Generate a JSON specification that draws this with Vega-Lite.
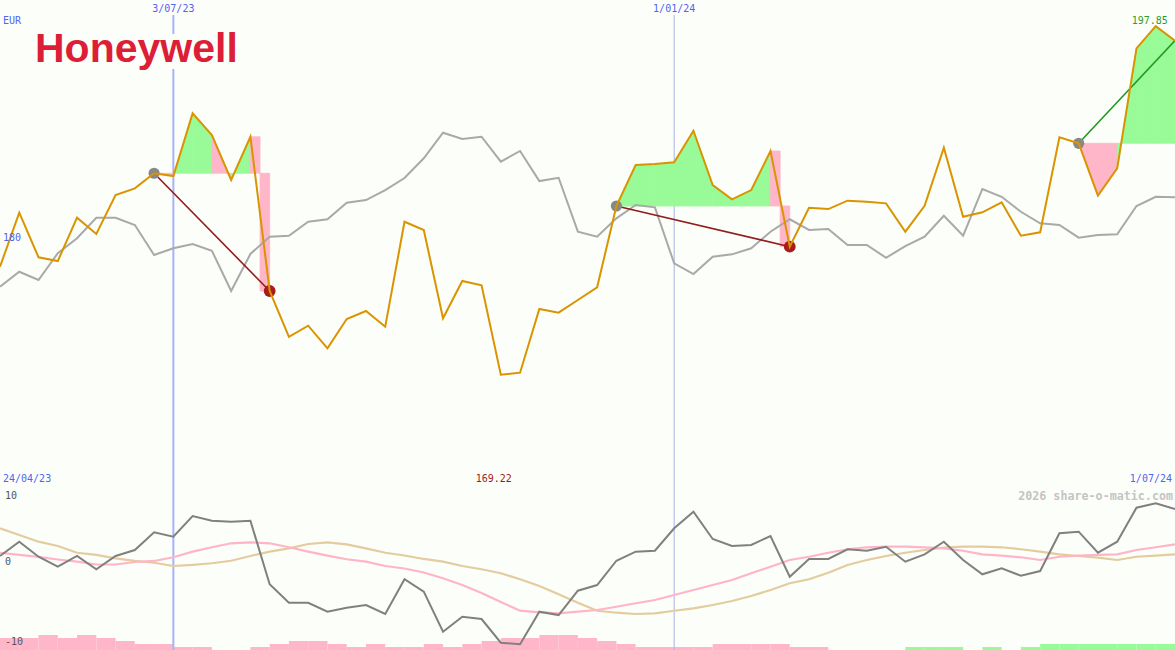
{
  "$schema": "https://vega.github.io/schema/vega-lite/v6.json",
  "background": "#fcfefa",
  "padding": 0,
  "spacing": 0,
  "bounds": "flush",
  "config": {
    "view": {"stroke": null},
    "axis": {"disable": true},
    "legend": {"disable": true},
    "text": {"font": "DejaVu Sans Mono", "fontSize": 10, "baseline": "middle"}
  },
  "datasets": {
    "series": [
      {"date": "2023-05-01", "price": 178.09, "peer": 176.45, "momentum": 1.5, "fast": 1.91, "slow": 4.96},
      {"date": "2023-05-08", "price": 182.53, "peer": 177.68, "momentum": 3.29, "fast": 1.63, "slow": 4.13},
      {"date": "2023-05-15", "price": 178.87, "peer": 177.0, "momentum": 1.41, "fast": 1.38, "slow": 3.29},
      {"date": "2023-05-22", "price": 178.56, "peer": 179.2, "momentum": 0.16, "fast": 1.06, "slow": 2.75},
      {"date": "2023-05-29", "price": 182.12, "peer": 180.43, "momentum": 1.5, "fast": 0.79, "slow": 1.91},
      {"date": "2023-06-05", "price": 180.78, "peer": 182.12, "momentum": -0.16, "fast": 0.44, "slow": 1.63},
      {"date": "2023-06-12", "price": 183.98, "peer": 182.12, "momentum": 1.5, "fast": 0.44, "slow": 1.21},
      {"date": "2023-06-19", "price": 184.53, "peer": 181.52, "momentum": 2.25, "fast": 0.75, "slow": 0.88},
      {"date": "2023-06-26", "price": 185.77, "peer": 179.06, "momentum": 4.46, "fast": 0.88, "slow": 0.66},
      {"date": "2023-07-03", "price": 185.54, "peer": 179.61, "momentum": 3.91, "fast": 1.34, "slow": 0.25},
      {"date": "2023-07-10", "price": 190.69, "peer": 179.96, "momentum": 6.5, "fast": 2.04, "slow": 0.38},
      {"date": "2023-07-17", "price": 188.91, "peer": 179.41, "momentum": 5.91, "fast": 2.59, "slow": 0.59},
      {"date": "2023-07-24", "price": 185.22, "peer": 176.1, "momentum": 5.79, "fast": 3.09, "slow": 0.91},
      {"date": "2023-07-31", "price": 188.77, "peer": 179.14, "momentum": 5.91, "fast": 3.21, "slow": 1.5},
      {"date": "2023-08-07", "price": 176.1, "peer": 180.56, "momentum": -2.04, "fast": 3.09, "slow": 2.04},
      {"date": "2023-08-14", "price": 172.34, "peer": 180.64, "momentum": -4.34, "fast": 2.59, "slow": 2.46},
      {"date": "2023-08-21", "price": 173.25, "peer": 181.79, "momentum": -4.34, "fast": 2.04, "slow": 3.0},
      {"date": "2023-08-28", "price": 171.39, "peer": 181.99, "momentum": -5.46, "fast": 1.54, "slow": 3.21},
      {"date": "2023-09-04", "price": 173.8, "peer": 183.35, "momentum": -4.96, "fast": 1.09, "slow": 2.96},
      {"date": "2023-09-11", "price": 174.46, "peer": 183.57, "momentum": -4.63, "fast": 0.79, "slow": 2.46},
      {"date": "2023-09-18", "price": 173.17, "peer": 184.39, "momentum": -5.75, "fast": 0.25, "slow": 1.91},
      {"date": "2023-09-25", "price": 181.79, "peer": 185.38, "momentum": -1.41, "fast": -0.06, "slow": 1.56},
      {"date": "2023-10-02", "price": 181.11, "peer": 187.0, "momentum": -2.96, "fast": -0.56, "slow": 1.13},
      {"date": "2023-10-09", "price": 173.86, "peer": 189.1, "momentum": -7.96, "fast": -1.29, "slow": 0.79},
      {"date": "2023-10-16", "price": 176.92, "peer": 188.58, "momentum": -6.09, "fast": -2.13, "slow": 0.25},
      {"date": "2023-10-23", "price": 176.57, "peer": 188.77, "momentum": -6.38, "fast": -3.13, "slow": -0.16},
      {"date": "2023-10-30", "price": 169.22, "peer": 186.72, "momentum": -9.34, "fast": -4.25, "slow": -0.66},
      {"date": "2023-11-06", "price": 169.39, "peer": 187.6, "momentum": -9.54, "fast": -5.34, "slow": -1.41},
      {"date": "2023-11-13", "price": 174.62, "peer": 185.13, "momentum": -5.46, "fast": -5.54, "slow": -2.25},
      {"date": "2023-11-20", "price": 174.32, "peer": 185.4, "momentum": -5.88, "fast": -5.66, "slow": -3.29},
      {"date": "2023-11-27", "price": 175.36, "peer": 180.97, "momentum": -2.84, "fast": -5.46, "slow": -4.34},
      {"date": "2023-12-04", "price": 176.4, "peer": 180.56, "momentum": -2.13, "fast": -5.25, "slow": -5.34},
      {"date": "2023-12-11", "price": 183.08, "peer": 182.07, "momentum": 0.91, "fast": -4.84, "slow": -5.59},
      {"date": "2023-12-18", "price": 186.45, "peer": 183.16, "momentum": 2.04, "fast": -4.41, "slow": -5.75},
      {"date": "2023-12-25", "price": 186.53, "peer": 182.97, "momentum": 2.16, "fast": -4.0, "slow": -5.66},
      {"date": "2024-01-01", "price": 186.67, "peer": 178.37, "momentum": 4.96, "fast": -3.38, "slow": -5.34},
      {"date": "2024-01-08", "price": 189.26, "peer": 177.49, "momentum": 7.04, "fast": -2.75, "slow": -5.04},
      {"date": "2024-01-15", "price": 184.8, "peer": 178.92, "momentum": 3.63, "fast": -2.13, "slow": -4.63},
      {"date": "2024-01-22", "price": 183.63, "peer": 179.11, "momentum": 2.75, "fast": -1.5, "slow": -4.13},
      {"date": "2024-01-29", "price": 184.39, "peer": 179.61, "momentum": 2.88, "fast": -0.66, "slow": -3.5},
      {"date": "2024-02-05", "price": 187.6, "peer": 180.97, "momentum": 4.0, "fast": 0.16, "slow": -2.75},
      {"date": "2024-02-12", "price": 179.74, "peer": 181.99, "momentum": -1.09, "fast": 1.0, "slow": -1.91},
      {"date": "2024-02-19", "price": 182.94, "peer": 181.11, "momentum": 1.13, "fast": 1.41, "slow": -1.41},
      {"date": "2024-02-26", "price": 182.83, "peer": 181.19, "momentum": 1.13, "fast": 1.91, "slow": -0.59},
      {"date": "2024-03-04", "price": 183.52, "peer": 179.88, "momentum": 2.34, "fast": 2.34, "slow": 0.38},
      {"date": "2024-03-11", "price": 183.43, "peer": 179.88, "momentum": 2.16, "fast": 2.59, "slow": 1.0},
      {"date": "2024-03-18", "price": 183.3, "peer": 178.83, "momentum": 2.66, "fast": 2.66, "slow": 1.5},
      {"date": "2024-03-25", "price": 180.97, "peer": 179.79, "momentum": 0.79, "fast": 2.66, "slow": 1.91},
      {"date": "2024-04-01", "price": 183.1, "peer": 180.56, "momentum": 1.71, "fast": 2.59, "slow": 2.25},
      {"date": "2024-04-08", "price": 187.87, "peer": 182.28, "momentum": 3.29, "fast": 2.46, "slow": 2.54},
      {"date": "2024-04-15", "price": 182.2, "peer": 180.64, "momentum": 1.0, "fast": 2.16, "slow": 2.66},
      {"date": "2024-04-22", "price": 182.56, "peer": 184.48, "momentum": -0.79, "fast": 1.71, "slow": 2.66},
      {"date": "2024-04-29", "price": 183.38, "peer": 183.84, "momentum": -0.04, "fast": 1.54, "slow": 2.59},
      {"date": "2024-05-06", "price": 180.64, "peer": 182.61, "momentum": -0.96, "fast": 1.34, "slow": 2.34},
      {"date": "2024-05-13", "price": 180.92, "peer": 181.66, "momentum": -0.38, "fast": 1.0, "slow": 2.04},
      {"date": "2024-05-20", "price": 188.72, "peer": 181.52, "momentum": 4.34, "fast": 1.41, "slow": 1.71},
      {"date": "2024-05-27", "price": 188.23, "peer": 180.48, "momentum": 4.54, "fast": 1.54, "slow": 1.5},
      {"date": "2024-06-03", "price": 183.93, "peer": 180.7, "momentum": 1.91, "fast": 1.63, "slow": 1.29},
      {"date": "2024-06-10", "price": 186.18, "peer": 180.76, "momentum": 3.29, "fast": 1.71, "slow": 1.0},
      {"date": "2024-06-17", "price": 196.03, "peer": 183.08, "momentum": 7.54, "fast": 2.25, "slow": 1.41},
      {"date": "2024-06-24", "price": 197.85, "peer": 183.84, "momentum": 8.09, "fast": 2.59, "slow": 1.54},
      {"date": "2024-07-01", "price": 196.66, "peer": 183.79, "momentum": 7.38, "fast": 2.96, "slow": 1.71}
    ],
    "fill": [
      {"seg": "a8", "date": "2023-06-26", "price": 185.77, "base": 185.77, "result": "loss", "exit_leg": false},
      {"seg": "a8", "date": "2023-07-03", "price": 185.54, "base": 185.77, "result": "loss", "exit_leg": false},
      {"seg": "a9", "date": "2023-07-03", "price": 185.54, "base": 185.77, "result": "gain", "exit_leg": false},
      {"seg": "a9", "date": "2023-07-10", "price": 190.69, "base": 185.77, "result": "gain", "exit_leg": false},
      {"seg": "a10", "date": "2023-07-10", "price": 190.69, "base": 185.77, "result": "gain", "exit_leg": false},
      {"seg": "a10", "date": "2023-07-17", "price": 188.91, "base": 185.77, "result": "gain", "exit_leg": false},
      {"seg": "a11", "date": "2023-07-17", "price": 188.91, "base": 185.77, "result": "loss", "exit_leg": false},
      {"seg": "a11", "date": "2023-07-24", "price": 185.22, "base": 185.77, "result": "loss", "exit_leg": false},
      {"seg": "a12", "date": "2023-07-24", "price": 185.22, "base": 185.77, "result": "gain", "exit_leg": false},
      {"seg": "a12", "date": "2023-07-31", "price": 188.77, "base": 185.77, "result": "gain", "exit_leg": false},
      {"seg": "a13", "date": "2023-07-31", "price": 188.77, "base": 185.77, "result": "loss", "exit_leg": true},
      {"seg": "a13", "date": "2023-08-07", "price": 176.1, "base": 185.77, "result": "loss", "exit_leg": true},
      {"seg": "b32", "date": "2023-12-11", "price": 183.08, "base": 183.08, "result": "gain", "exit_leg": false},
      {"seg": "b32", "date": "2023-12-18", "price": 186.45, "base": 183.08, "result": "gain", "exit_leg": false},
      {"seg": "b33", "date": "2023-12-18", "price": 186.45, "base": 183.08, "result": "gain", "exit_leg": false},
      {"seg": "b33", "date": "2023-12-25", "price": 186.53, "base": 183.08, "result": "gain", "exit_leg": false},
      {"seg": "b34", "date": "2023-12-25", "price": 186.53, "base": 183.08, "result": "gain", "exit_leg": false},
      {"seg": "b34", "date": "2024-01-01", "price": 186.67, "base": 183.08, "result": "gain", "exit_leg": false},
      {"seg": "b35", "date": "2024-01-01", "price": 186.67, "base": 183.08, "result": "gain", "exit_leg": false},
      {"seg": "b35", "date": "2024-01-08", "price": 189.26, "base": 183.08, "result": "gain", "exit_leg": false},
      {"seg": "b36", "date": "2024-01-08", "price": 189.26, "base": 183.08, "result": "gain", "exit_leg": false},
      {"seg": "b36", "date": "2024-01-15", "price": 184.8, "base": 183.08, "result": "gain", "exit_leg": false},
      {"seg": "b37", "date": "2024-01-15", "price": 184.8, "base": 183.08, "result": "gain", "exit_leg": false},
      {"seg": "b37", "date": "2024-01-22", "price": 183.63, "base": 183.08, "result": "gain", "exit_leg": false},
      {"seg": "b38", "date": "2024-01-22", "price": 183.63, "base": 183.08, "result": "gain", "exit_leg": false},
      {"seg": "b38", "date": "2024-01-29", "price": 184.39, "base": 183.08, "result": "gain", "exit_leg": false},
      {"seg": "b39", "date": "2024-01-29", "price": 184.39, "base": 183.08, "result": "gain", "exit_leg": false},
      {"seg": "b39", "date": "2024-02-05", "price": 187.6, "base": 183.08, "result": "gain", "exit_leg": false},
      {"seg": "b40", "date": "2024-02-05", "price": 187.6, "base": 183.08, "result": "loss", "exit_leg": true},
      {"seg": "b40", "date": "2024-02-12", "price": 179.74, "base": 183.08, "result": "loss", "exit_leg": true},
      {"seg": "c56", "date": "2024-05-27", "price": 188.23, "base": 188.23, "result": "loss", "exit_leg": false},
      {"seg": "c56", "date": "2024-06-03", "price": 183.93, "base": 188.23, "result": "loss", "exit_leg": false},
      {"seg": "c57", "date": "2024-06-03", "price": 183.93, "base": 188.23, "result": "loss", "exit_leg": false},
      {"seg": "c57", "date": "2024-06-10", "price": 186.18, "base": 188.23, "result": "loss", "exit_leg": false},
      {"seg": "c58", "date": "2024-06-10", "price": 186.18, "base": 188.23, "result": "gain", "exit_leg": false},
      {"seg": "c58", "date": "2024-06-17", "price": 196.03, "base": 188.23, "result": "gain", "exit_leg": false},
      {"seg": "c59", "date": "2024-06-17", "price": 196.03, "base": 188.23, "result": "gain", "exit_leg": false},
      {"seg": "c59", "date": "2024-06-24", "price": 197.85, "base": 188.23, "result": "gain", "exit_leg": false},
      {"seg": "c60", "date": "2024-06-24", "price": 197.85, "base": 188.23, "result": "gain", "exit_leg": false},
      {"seg": "c60", "date": "2024-07-01", "price": 196.66, "base": 188.23, "result": "gain", "exit_leg": false}
    ],
    "trades": [
      {"trade": 1, "entry_date": "2023-06-26", "entry": 185.77, "exit_date": "2023-08-07", "exit": 176.1, "status": "closed", "result": "loss"},
      {"trade": 2, "entry_date": "2023-12-11", "entry": 183.08, "exit_date": "2024-02-12", "exit": 179.74, "status": "closed", "result": "loss"},
      {"trade": 3, "entry_date": "2024-05-27", "entry": 188.23, "exit_date": "2024-07-01", "exit": 196.66, "status": "open", "result": "gain"}
    ],
    "markers": [
      {"date": "2023-07-03", "marker": "3/07/23", "top": 198.77, "bottom": 197.21},
      {"date": "2023-07-03", "marker": "3/07/23", "top": 194.33, "bottom": 159.92},
      {"date": "2024-01-01", "marker": "1/01/24", "top": 198.77, "bottom": 159.92}
    ],
    "bars": [
      {"start": "2023-05-01", "end": "2023-05-08", "strength": 4, "trend": "down"},
      {"start": "2023-05-08", "end": "2023-05-15", "strength": 4, "trend": "down"},
      {"start": "2023-05-15", "end": "2023-05-22", "strength": 5, "trend": "down"},
      {"start": "2023-05-22", "end": "2023-05-29", "strength": 4, "trend": "down"},
      {"start": "2023-05-29", "end": "2023-06-05", "strength": 5, "trend": "down"},
      {"start": "2023-06-05", "end": "2023-06-12", "strength": 4, "trend": "down"},
      {"start": "2023-06-12", "end": "2023-06-19", "strength": 3, "trend": "down"},
      {"start": "2023-06-19", "end": "2023-06-26", "strength": 2, "trend": "down"},
      {"start": "2023-06-26", "end": "2023-07-03", "strength": 2, "trend": "down"},
      {"start": "2023-07-03", "end": "2023-07-10", "strength": 1, "trend": "down"},
      {"start": "2023-07-10", "end": "2023-07-17", "strength": 1, "trend": "down"},
      {"start": "2023-07-31", "end": "2023-08-07", "strength": 1, "trend": "down"},
      {"start": "2023-08-07", "end": "2023-08-14", "strength": 2, "trend": "down"},
      {"start": "2023-08-14", "end": "2023-08-21", "strength": 3, "trend": "down"},
      {"start": "2023-08-21", "end": "2023-08-28", "strength": 3, "trend": "down"},
      {"start": "2023-08-28", "end": "2023-09-04", "strength": 2, "trend": "down"},
      {"start": "2023-09-04", "end": "2023-09-11", "strength": 1, "trend": "down"},
      {"start": "2023-09-11", "end": "2023-09-18", "strength": 2, "trend": "down"},
      {"start": "2023-09-18", "end": "2023-09-25", "strength": 1, "trend": "down"},
      {"start": "2023-09-25", "end": "2023-10-02", "strength": 1, "trend": "down"},
      {"start": "2023-10-02", "end": "2023-10-09", "strength": 2, "trend": "down"},
      {"start": "2023-10-09", "end": "2023-10-16", "strength": 1, "trend": "down"},
      {"start": "2023-10-16", "end": "2023-10-23", "strength": 2, "trend": "down"},
      {"start": "2023-10-23", "end": "2023-10-30", "strength": 3, "trend": "down"},
      {"start": "2023-10-30", "end": "2023-11-06", "strength": 4, "trend": "down"},
      {"start": "2023-11-06", "end": "2023-11-13", "strength": 4, "trend": "down"},
      {"start": "2023-11-13", "end": "2023-11-20", "strength": 5, "trend": "down"},
      {"start": "2023-11-20", "end": "2023-11-27", "strength": 5, "trend": "down"},
      {"start": "2023-11-27", "end": "2023-12-04", "strength": 4, "trend": "down"},
      {"start": "2023-12-04", "end": "2023-12-11", "strength": 3, "trend": "down"},
      {"start": "2023-12-11", "end": "2023-12-18", "strength": 2, "trend": "down"},
      {"start": "2023-12-18", "end": "2023-12-25", "strength": 1, "trend": "down"},
      {"start": "2023-12-25", "end": "2024-01-01", "strength": 1, "trend": "down"},
      {"start": "2024-01-01", "end": "2024-01-08", "strength": 1, "trend": "down"},
      {"start": "2024-01-08", "end": "2024-01-15", "strength": 1, "trend": "down"},
      {"start": "2024-01-15", "end": "2024-01-22", "strength": 2, "trend": "down"},
      {"start": "2024-01-22", "end": "2024-01-29", "strength": 2, "trend": "down"},
      {"start": "2024-01-29", "end": "2024-02-05", "strength": 2, "trend": "down"},
      {"start": "2024-02-05", "end": "2024-02-12", "strength": 2, "trend": "down"},
      {"start": "2024-02-12", "end": "2024-02-19", "strength": 1, "trend": "down"},
      {"start": "2024-02-19", "end": "2024-02-26", "strength": 1, "trend": "down"},
      {"start": "2024-03-25", "end": "2024-04-01", "strength": 1, "trend": "up"},
      {"start": "2024-04-01", "end": "2024-04-08", "strength": 1, "trend": "up"},
      {"start": "2024-04-08", "end": "2024-04-15", "strength": 1, "trend": "up"},
      {"start": "2024-04-22", "end": "2024-04-29", "strength": 1, "trend": "up"},
      {"start": "2024-05-06", "end": "2024-05-13", "strength": 1, "trend": "up"},
      {"start": "2024-05-13", "end": "2024-05-20", "strength": 2, "trend": "up"},
      {"start": "2024-05-20", "end": "2024-05-27", "strength": 2, "trend": "up"},
      {"start": "2024-05-27", "end": "2024-06-03", "strength": 2, "trend": "up"},
      {"start": "2024-06-03", "end": "2024-06-10", "strength": 2, "trend": "up"},
      {"start": "2024-06-10", "end": "2024-06-17", "strength": 2, "trend": "up"},
      {"start": "2024-06-17", "end": "2024-06-24", "strength": 2, "trend": "up"},
      {"start": "2024-06-24", "end": "2024-07-01", "strength": 2, "trend": "up"}
    ]
  },
  "vconcat": [
    {
      "width": 1175,
      "height": 488,
      "layer": [
        {
          "data": {"name": "markers"},
          "transform": [{"filter": "datum.marker === '3/07/23'"}],
          "mark": {"type": "rule", "color": "#a6b3f5", "strokeWidth": 2},
          "encoding": {
            "x": {"field": "date", "type": "temporal", "scale": {"type": "utc", "nice": false, "domain": [{"year": 2023, "month": 5, "date": 1, "utc": true}, {"year": 2024, "month": 7, "date": 1, "utc": true}]}},
            "y": {"field": "top", "type": "quantitative", "scale": {"domain": [159.92, 200], "nice": false, "zero": false}},
            "y2": {"field": "bottom"}
          }
        },
        {
          "data": {"name": "markers"},
          "transform": [{"filter": "datum.marker === '1/01/24'"}],
          "mark": {"type": "rule", "color": "#aab3de", "strokeWidth": 1},
          "encoding": {
            "x": {"field": "date", "type": "temporal"},
            "y": {"field": "top", "type": "quantitative"},
            "y2": {"field": "bottom"}
          }
        },
        {
          "mark": {"type": "rule", "color": "#a6b3f5", "strokeWidth": 2},
          "encoding": {"y": {"datum": 180, "type": "quantitative"}}
        },
        {
          "data": {"name": "fill"},
          "transform": [{"filter": "!datum.exit_leg"}],
          "mark": {"type": "area", "interpolate": "linear", "opacity": 1, "strokeWidth": 0.8},
          "encoding": {
            "x": {"field": "date", "type": "temporal"},
            "y": {"field": "price", "type": "quantitative"},
            "y2": {"field": "base"},
            "detail": {"field": "seg", "type": "nominal"},
            "color": {"field": "result", "type": "nominal", "scale": {"domain": ["gain", "loss"], "range": ["#98fb98", "#ffb6c8"]}},
            "stroke": {"field": "result", "type": "nominal", "scale": {"domain": ["gain", "loss"], "range": ["#98fb98", "#ffb6c8"]}}
          }
        },
        {
          "data": {"name": "fill"},
          "transform": [{"filter": "datum.exit_leg"}],
          "mark": {"type": "area", "interpolate": "step", "opacity": 1, "strokeWidth": 0.8},
          "encoding": {
            "x": {"field": "date", "type": "temporal"},
            "y": {"field": "price", "type": "quantitative"},
            "y2": {"field": "base"},
            "detail": {"field": "seg", "type": "nominal"},
            "color": {"field": "result", "type": "nominal"},
            "stroke": {"field": "result", "type": "nominal"}
          }
        },
        {
          "data": {"name": "series"},
          "mark": {"type": "line", "color": "#a9a9a9", "strokeWidth": 2, "clip": true},
          "encoding": {
            "x": {"field": "date", "type": "temporal"},
            "y": {"field": "peer", "type": "quantitative"}
          }
        },
        {
          "data": {"name": "trades"},
          "mark": {"type": "rule", "strokeWidth": 1.6},
          "encoding": {
            "x": {"field": "entry_date", "type": "temporal"},
            "x2": {"field": "exit_date"},
            "y": {"field": "entry", "type": "quantitative"},
            "y2": {"field": "exit"},
            "color": {"condition": {"test": "datum.result === 'gain'", "value": "#1f9a1f"}, "value": "#931c1c"}
          }
        },
        {
          "data": {"name": "trades"},
          "mark": {"type": "circle", "color": "#888888", "opacity": 1, "size": 125},
          "encoding": {
            "x": {"field": "entry_date", "type": "temporal"},
            "y": {"field": "entry", "type": "quantitative"}
          }
        },
        {
          "data": {"name": "trades"},
          "transform": [{"filter": "datum.status === 'closed'"}],
          "mark": {"type": "circle", "color": "#a81c1c", "opacity": 1, "size": 140},
          "encoding": {
            "x": {"field": "exit_date", "type": "temporal"},
            "y": {"field": "exit", "type": "quantitative"}
          }
        },
        {
          "data": {"name": "series"},
          "mark": {"type": "line", "color": "#d99400", "strokeWidth": 2, "clip": true},
          "encoding": {
            "x": {"field": "date", "type": "temporal"},
            "y": {"field": "price", "type": "quantitative"}
          }
        },
        {
          "data": {"values": [
            {"date": "2023-05-01", "value": 198.28, "label": "EUR"},
            {"date": "2023-05-01", "value": 180.48, "label": "180"},
            {"date": "2023-05-01", "value": 160.64, "label": "24/04/23"}
          ]},
          "mark": {"type": "text", "align": "left", "dx": 3, "color": "#5264f0"},
          "encoding": {
            "x": {"field": "date", "type": "temporal"},
            "y": {"field": "value", "type": "quantitative"},
            "text": {"field": "label"}
          }
        },
        {
          "data": {"values": [
            {"date": "2023-07-03", "value": 199.24, "label": "3/07/23"},
            {"date": "2024-01-01", "value": 199.24, "label": "1/01/24"}
          ]},
          "mark": {"type": "text", "align": "center", "color": "#5264f0"},
          "encoding": {
            "x": {"field": "date", "type": "temporal"},
            "y": {"field": "value", "type": "quantitative"},
            "text": {"field": "label"}
          }
        },
        {
          "data": {"values": [
            {"date": "2024-07-01", "value": 160.64, "label": "1/07/24"}
          ]},
          "mark": {"type": "text", "align": "right", "dx": -3, "color": "#5264f0"},
          "encoding": {
            "x": {"field": "date", "type": "temporal"},
            "y": {"field": "value", "type": "quantitative"},
            "text": {"field": "label"}
          }
        },
        {
          "data": {"values": [
            {"date": "2024-06-24", "value": 198.29, "label": "197.85"}
          ]},
          "mark": {"type": "text", "align": "center", "dx": -6, "color": "#2a9d2a"},
          "encoding": {
            "x": {"field": "date", "type": "temporal"},
            "y": {"field": "value", "type": "quantitative"},
            "text": {"field": "label"}
          }
        },
        {
          "data": {"values": [
            {"date": "2023-10-30", "value": 160.64, "label": "169.22"}
          ]},
          "mark": {"type": "text", "align": "center", "dx": -7, "color": "#a01c1c"},
          "encoding": {
            "x": {"field": "date", "type": "temporal"},
            "y": {"field": "value", "type": "quantitative"},
            "text": {"field": "label"}
          }
        },
        {
          "data": {"values": [
            {"date": "2023-05-01", "value": 194.91, "label": "Honeywell"}
          ]},
          "mark": {"type": "text", "align": "left", "baseline": "alphabetic", "dx": 35, "font": "Liberation Sans", "fontWeight": "bold", "fontSize": 41, "color": "#dc1e37"},
          "encoding": {
            "x": {"field": "date", "type": "temporal"},
            "y": {"field": "value", "type": "quantitative"},
            "text": {"field": "label"}
          }
        }
      ]
    },
    {
      "width": 1175,
      "height": 162,
      "layer": [
        {
          "data": {"name": "bars"},
          "mark": {"type": "rect", "opacity": 1},
          "encoding": {
            "x": {"field": "start", "type": "temporal", "scale": {"type": "utc", "nice": false, "domain": [{"year": 2023, "month": 5, "date": 1, "utc": true}, {"year": 2024, "month": 7, "date": 1, "utc": true}]}},
            "x2": {"field": "end"},
            "y": {"field": "strength", "type": "quantitative", "scale": {"domain": [0, 54], "nice": false, "zero": false}},
            "y2": {"datum": 0},
            "color": {"field": "trend", "type": "nominal", "scale": {"domain": ["up", "down"], "range": ["#98fb98", "#ffb6c8"]}}
          }
        },
        {
          "layer": [
            {
              "mark": {"type": "rule", "color": "#a6b3f5", "strokeWidth": 2},
              "encoding": {"y": {"datum": 0, "type": "quantitative", "scale": {"domain": [-10.25, 10], "nice": false, "zero": false}}}
            },
            {
              "data": {"values": [{"date": "2023-07-03"}]},
              "mark": {"type": "rule", "color": "#a6b3f5", "strokeWidth": 2},
              "encoding": {"x": {"field": "date", "type": "temporal"}}
            },
            {
              "data": {"values": [{"date": "2024-01-01"}]},
              "mark": {"type": "rule", "color": "#aab3de", "strokeWidth": 1},
              "encoding": {"x": {"field": "date", "type": "temporal"}}
            },
            {
              "mark": {"type": "rule", "color": "#6b7fe8", "strokeWidth": 2.5},
              "encoding": {"y": {"datum": 10.06, "type": "quantitative"}}
            },
            {
              "data": {"name": "series"},
              "mark": {"type": "line", "color": "#e3cc9e", "strokeWidth": 2.2, "clip": true},
              "encoding": {
                "x": {"field": "date", "type": "temporal"},
                "y": {"field": "slow", "type": "quantitative"}
              }
            },
            {
              "data": {"name": "series"},
              "mark": {"type": "line", "color": "#ffb4c8", "strokeWidth": 2.2, "clip": true},
              "encoding": {
                "x": {"field": "date", "type": "temporal"},
                "y": {"field": "fast", "type": "quantitative"}
              }
            },
            {
              "data": {"name": "series"},
              "mark": {"type": "line", "color": "#808080", "strokeWidth": 2, "clip": true},
              "encoding": {
                "x": {"field": "date", "type": "temporal"},
                "y": {"field": "momentum", "type": "quantitative"}
              }
            },
            {
              "data": {"values": [
                {"date": "2023-05-01", "value": 9.03, "label": "10"},
                {"date": "2023-05-01", "value": 0.75, "label": "0"},
                {"date": "2023-05-01", "value": -9.29, "label": "-10"}
              ]},
              "mark": {"type": "text", "align": "left", "dx": 5, "color": "#555555"},
              "encoding": {
                "x": {"field": "date", "type": "temporal"},
                "y": {"field": "value", "type": "quantitative"},
                "text": {"field": "label"}
              }
            },
            {
              "data": {"values": [
                {"date": "2024-07-01", "value": 8.98, "label": "2026 share-o-matic.com"}
              ]},
              "mark": {"type": "text", "align": "right", "dx": -2, "color": "#c4c4c4", "fontWeight": "bold", "fontSize": 11.7},
              "encoding": {
                "x": {"field": "date", "type": "temporal"},
                "y": {"field": "value", "type": "quantitative"},
                "text": {"field": "label"}
              }
            }
          ]
        }
      ],
      "resolve": {"scale": {"y": "independent"}}
    }
  ]
}
